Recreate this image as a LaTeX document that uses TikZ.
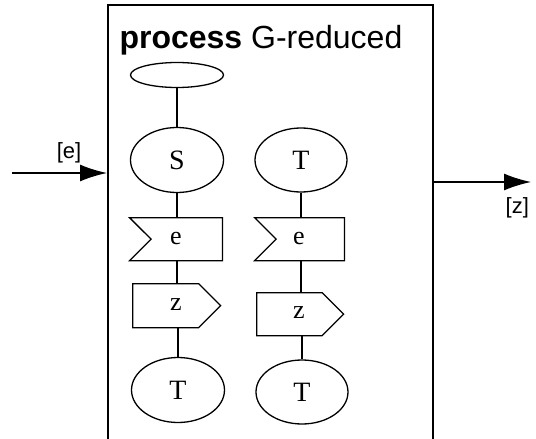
\documentclass[tikz,border=0pt]{standalone}
\usepackage{fontspec}
\setmainfont{Liberation Sans}
\newfontfamily\statefont{Liberation Serif}
\usepackage{tikz}
\usetikzlibrary{shapes.geometric,shapes.symbols,arrows.meta}
\tikzset{>=stealth,
  state/.style={draw,ellipse,line width=1.3pt,minimum width=93pt,minimum height=65pt,inner sep=0pt,font=\statefont\fontsize{28}{28}\selectfont},
  recv/.style={draw,signal,signal from=west,signal to=nowhere,line width=1.3pt,minimum width=93pt,minimum height=43pt,inner sep=0pt,anchor=north west},
  send/.style={draw,signal,signal to=east,line width=1.3pt,minimum width=88pt,minimum height=44pt,inner sep=0pt,anchor=north west},
  sig/.style={inner sep=0pt,font=\statefont\fontsize{26}{26}\selectfont},
  link/.style={line width=1.5pt},
  flow/.style={line width=1.5pt,-{Latex[length=27pt,width=17pt]}}}

\begin{document}
\begin{tikzpicture}[x=1pt,y=-1pt]
    \useasboundingbox (0,0) rectangle (536,439);

    % process frame, open at the bottom
    \draw[line width=1.8pt] (108,441) -- (108,5) -- (433,5) -- (433,441);
    \node[anchor=base west,font=\fontsize{32}{32}\selectfont] (title) at (116,48) {\textbf{process} G-reduced};

    % left column
    \node[state,minimum height=25pt] (start) at (177,75) {};
    \node[state] (S) at (177,160) {S};
    \node[recv] (recvL) at (128,217) {};
    \node[sig] (eL) at (176,238) {e};
    \node[send] (sendL) at (132,283) {};
    \node[sig] (zL) at (176,305) {z};
    \node[state] (T2) at (178,390) {T};

    % right column
    \node[state,minimum width=92pt,minimum height=64pt] (T1) at (301,160) {T};
    \node[recv,minimum width=90pt] (recvR) at (253,217) {};
    \node[sig] (eR) at (299,238) {e};
    \node[send,minimum width=87pt,minimum height=43pt] (sendR) at (256,292) {};
    \node[sig] (zR) at (299,313) {z};
    \node[state,minimum width=92pt,minimum height=64pt] (T3) at (302,392) {T};

    \draw[link] (start) -- (S);
    \draw[link] (S) -- (S |- recvL.north);
    \draw[link] (S |- recvL.south) -- (S |- sendL.north);
    \draw[link] (T2 |- sendL.south) -- (T2);
    \draw[link] (T1) -- (T1 |- recvR.north);
    \draw[link] (T1 |- recvR.south) -- (T1 |- sendR.north);
    \draw[link] (T3 |- sendR.south) -- (T3);

    % signals in and out
    \coordinate (inp) at (12,173);
    \coordinate (frameW) at (107,173);
    \coordinate (frameE) at (433,182);
    \coordinate (outp) at (531,182);
    \draw[flow] (inp) -- (frameW) node[pos=0.6,above=6pt,font=\fontsize{22}{22}\selectfont] (ein) {[e]};
    \draw[flow] (frameE) -- (outp) node[pos=0.86,below=11pt,font=\fontsize{22}{22}\selectfont] (zout) {[z]};
\end{tikzpicture}
\end{document}
